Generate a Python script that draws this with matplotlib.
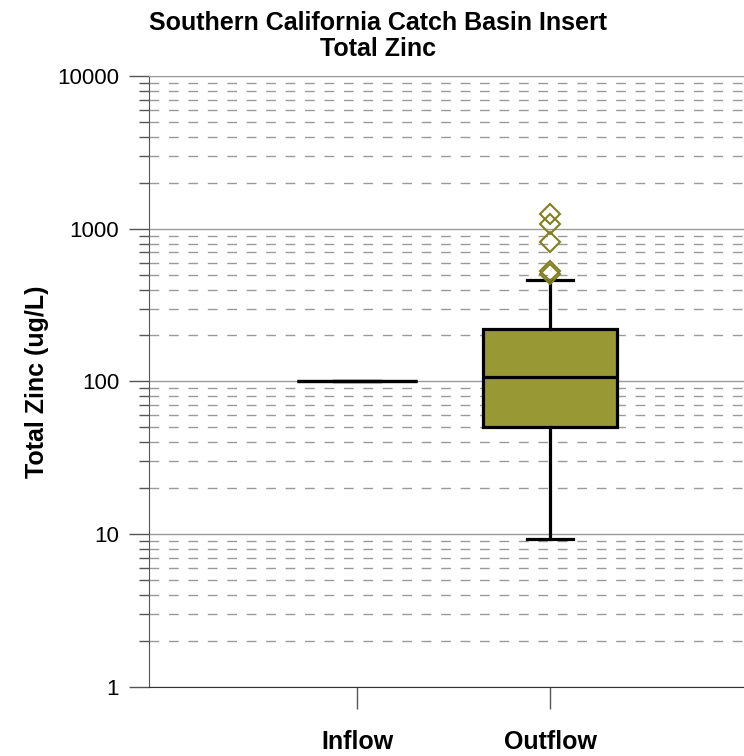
import matplotlib
matplotlib.use('Agg')
from matplotlib import pyplot as plt
from matplotlib.ticker import LogLocator, NullFormatter, FixedLocator

plt.rcParams['font.family'] = ['Liberation Sans', 'DejaVu Sans']

categories = ['Inflow', 'Outflow']
positions = [1, 2]

# box statistics (ug/L)
whislo = [100, 9.3]
q1 = [100, 50.4]
med = [100, 107]
q3 = [100, 221]
whishi = [100, 462]
outliers = [[], [1250, 1080, 820, 525, 505]]
box_widths = [0.62, 0.69]

stats = []
for i, name in enumerate(categories):
    stats.append(dict(label=name, whislo=whislo[i], q1=q1[i], med=med[i],
                      q3=q3[i], whishi=whishi[i], fliers=outliers[i]))

fig = plt.figure(figsize=(7.44, 7.56), dpi=100)
ax = fig.add_axes([0.2003, 0.0913, 0.7997, 0.8082])

ax.set_yscale('log')
ax.set_ylim(1, 10000)
ax.set_xlim(-0.078, 3.005)

# grid
ax.yaxis.set_major_locator(FixedLocator([1, 10, 100, 1000, 10000]))
ax.yaxis.set_minor_locator(LogLocator(base=10, subs=range(2, 10)))
ax.yaxis.set_minor_formatter(NullFormatter())
ax.grid(which='major', axis='y', color='#9a9a9a', linewidth=1.0, linestyle='-')
ax.grid(which='minor', axis='y', color='#9a9a9a', linewidth=1.0,
        linestyle=(0, (7, 7)))
ax.set_axisbelow(True)

ax.bxp(stats, positions=positions, widths=box_widths, patch_artist=True,
       showfliers=True,
       boxprops=dict(facecolor='#989834', edgecolor='black', linewidth=2.3),
       medianprops=dict(color='black', linewidth=2.3),
       whiskerprops=dict(color='black', linewidth=2.3),
       capprops=dict(color='black', linewidth=2.3),
       capwidths=0.24,
       flierprops=dict(marker='D', markerfacecolor='none',
                       markeredgecolor='#808020', markersize=10,
                       markeredgewidth=1.5))

ax.set_yticks([1, 10, 100, 1000, 10000])
ax.set_yticklabels(['1', '10', '100', '1000', '10000'])
ax.set_xticks(positions)
ax.set_xticklabels(categories, fontweight='bold')

ax.tick_params(axis='y', which='major', length=14.5, width=1, color='#555555',
               labelsize=16, pad=7)
ax.tick_params(axis='y', which='minor', length=7, width=1, color='#555555')
ax.tick_params(axis='x', which='major', length=16, width=1, color='#555555',
               labelsize=18, pad=15)

ax.spines['right'].set_visible(False)
ax.spines['top'].set_color('#9a9a9a')
ax.spines['left'].set_color('#555555')
ax.spines['bottom'].set_color('#333333')

ax.set_ylabel('Total Zinc (ug/L)', fontsize=18, fontweight='bold', labelpad=6)
fig.text(0.508, 0.986, 'Southern California Catch Basin Insert\nTotal Zinc',
         ha='center', va='top', fontsize=18, fontweight='bold', linespacing=1.12)

fig.savefig('out.png', dpi=100)
